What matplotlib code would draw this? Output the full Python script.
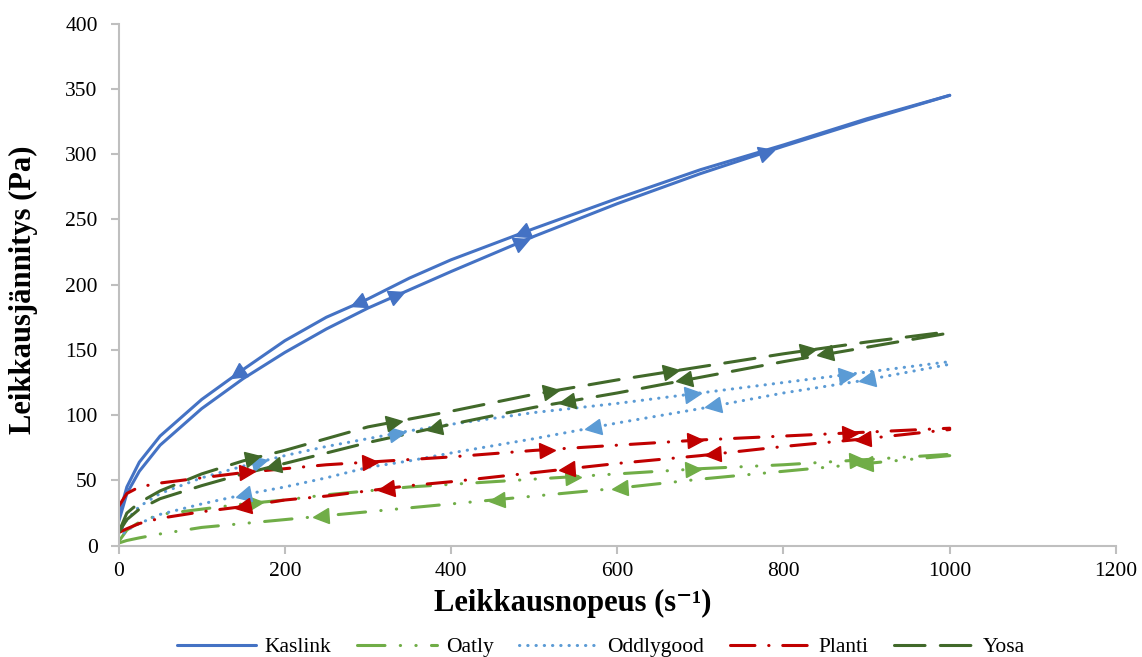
import numpy as np
import matplotlib.pyplot as plt
from matplotlib.markers import MarkerStyle

plt.rcParams['font.family'] = ['Liberation Serif', 'DejaVu Serif']

# shear rate (1/s) used for all curves
rate = [0, 10, 25, 50, 100, 150, 200, 250, 300, 350, 400, 500, 600, 700, 800, 900, 1000]

# shear stress (Pa), up = increasing rate, down = decreasing rate
kaslink_up   = [18, 40, 57, 77, 105, 128, 148, 166, 182, 196, 210, 237, 262, 285, 306, 326, 345]
kaslink_down = [22, 45, 64, 84, 112, 135, 157, 175, 189, 205, 219, 243, 266, 288, 307, 327, 345]
oatly_up     = [3, 12, 18, 24, 28, 32, 35, 39, 42, 45, 47, 51, 55, 59, 62, 66, 70]
oatly_down   = [2, 4, 6, 9, 14, 17, 20, 23, 26, 29, 32, 38, 44, 51, 57, 63, 69]
oddly_up     = [8, 20, 30, 40, 52, 61, 69, 76, 82, 88, 93, 102, 109, 117, 125, 133, 141]
oddly_down   = [5, 12, 17, 24, 32, 39, 45, 52, 60, 65, 71, 82, 94, 105, 117, 127, 139]
planti_up    = [30, 40, 45, 48, 52, 56, 59, 62, 64, 66, 68, 73, 77, 81, 84, 87, 90]
planti_down  = [10, 13, 17, 21, 26, 30, 35, 38, 42, 46, 49, 56, 63, 69, 76, 82, 89]
yosa_up      = [10, 25, 33, 42, 55, 65, 73, 82, 91, 97, 103, 116, 127, 137, 147, 156, 164]
yosa_down    = [10, 20, 28, 36, 46, 55, 63, 71, 79, 86, 93, 106, 117, 129, 141, 152, 163]

# rates where the direction arrows sit
kaslink_up_arr   = [335, 485, 780]
kaslink_down_arr = [143, 288, 485]
oatly_up_arr     = [164, 547, 691, 888]
oatly_down_arr   = [244, 455, 603, 898]
oddly_up_arr     = [170, 335, 691, 876]
oddly_down_arr   = [150, 571, 715, 900]
planti_up_arr    = [154, 302, 515, 693, 880]
planti_down_arr  = [150, 322, 539, 715, 896]
yosa_up_arr      = [162, 332, 520, 665, 830]
yosa_down_arr    = [186, 380, 540, 680, 850]

names = ['Kaslink', 'Oatly', 'Oddlygood', 'Planti', 'Yosa']
colors = ['#4472C4', '#70AD47', '#5B9BD5', '#C00000', '#41692A']
dashes = [None, (9, 5, 0.1, 5, 0.1, 5), (0.1, 2.6), (8, 4.5, 0.1, 4.5), (10, 5)]
ups = [kaslink_up, oatly_up, oddly_up, planti_up, yosa_up]
downs = [kaslink_down, oatly_down, oddly_down, planti_down, yosa_down]
up_arr = [kaslink_up_arr, oatly_up_arr, oddly_up_arr, planti_up_arr, yosa_up_arr]
down_arr = [kaslink_down_arr, oatly_down_arr, oddly_down_arr, planti_down_arr, yosa_down_arr]

fig = plt.figure(figsize=(11.42, 6.57), dpi=100)
ax = fig.add_axes([0.1038, 0.1694, 0.8734, 0.7948])
ax.set_xlim(0, 1200)
ax.set_ylim(0, 400)

def arrows(xs, ys, where, col, back):
    px = np.interp(where, xs, ys)
    for x0, y0 in zip(where, px):
        p1 = ax.transData.transform((x0 - 5, np.interp(x0 - 5, xs, ys)))
        p2 = ax.transData.transform((x0 + 5, np.interp(x0 + 5, xs, ys)))
        ang = np.degrees(np.arctan2(p2[1] - p1[1], p2[0] - p1[0]))
        if back:
            ang += 180
        m = MarkerStyle('>').rotated(deg=ang)
        ax.plot([x0], [y0], linestyle='none', marker=m, markersize=11,
                color=col, zorder=4)

for i in range(5):
    kw = dict(color=colors[i], lw=2.2, solid_capstyle='round',
              dash_capstyle='round', solid_joinstyle='round')
    if dashes[i] is None:
        ls = '-'
    else:
        ls = (0, dashes[i])
    ax.plot(rate, ups[i], linestyle=ls, label=names[i], **kw)
    ax.plot(rate, downs[i], linestyle=ls, **kw)
    arrows(rate, ups[i], up_arr[i], colors[i], False)
    arrows(rate, downs[i], down_arr[i], colors[i], True)

ax.spines['top'].set_visible(False)
ax.spines['right'].set_visible(False)
for s in ['left', 'bottom']:
    ax.spines[s].set_color('#BFBFBF')
    ax.spines[s].set_linewidth(1.5)
ax.set_xticks(np.arange(0, 1201, 200))
ax.set_yticks(np.arange(0, 401, 50))
ax.tick_params(direction='out', length=6, width=1.5, color='#BFBFBF',
               labelsize=15.5)
ax.tick_params(axis='y', pad=9)
ax.tick_params(axis='x', pad=6)

ax.set_xlabel('Leikkausnopeus (s⁻¹)', fontsize=22, fontweight='bold')
ax.xaxis.set_label_coords(0.455, -0.082)
ax.set_ylabel('Leikkausjännitys (Pa)', fontsize=22, fontweight='bold')
ax.yaxis.set_label_coords(-0.081, 0.49)

fig.legend(loc='center', bbox_to_anchor=(0.526, 0.015), ncol=5, frameon=False,
           fontsize=15.5, handlelength=3.7, columnspacing=1.2, handletextpad=0.4)

fig.savefig('out.png', dpi=100)
